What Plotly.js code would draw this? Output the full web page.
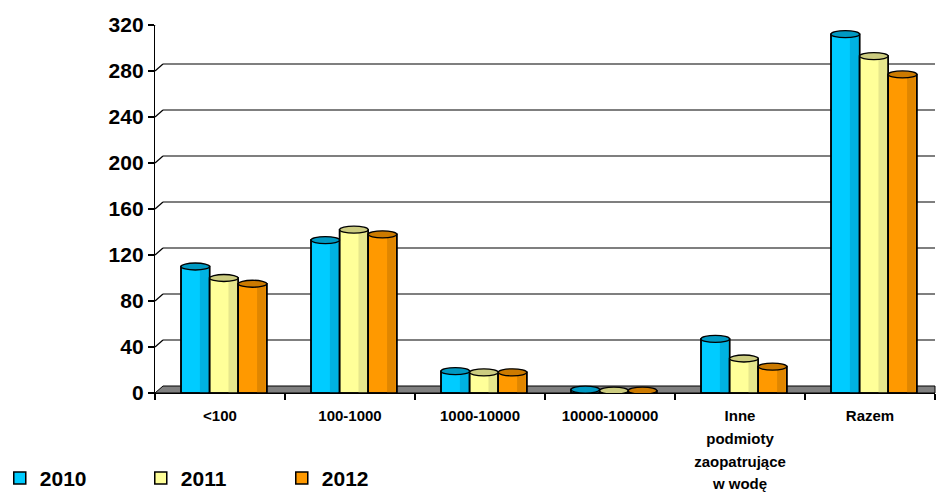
<!DOCTYPE html>
<html>
<head>
<meta charset="utf-8">
<script src="https://cdn.plot.ly/plotly-3.0.1.min.js"></script>
<style>
  html, body { margin: 0; padding: 0; background: #ffffff; }
  #chart { width: 937px; height: 493px; }
</style>
</head>
<body>
<div id="chart"></div>
<script>
// Categories (size classes of water suppliers) and yearly counts
const categories = ['<100', '100-1000', '1000-10000', '10000-100000', 'Inne podmioty zaopatrujące w wodę', 'Razem'];
const categoryLabels = ['<100', '100-1000', '1000-10000', '10000-100000', 'Inne<br>podmioty<br>zaopatrujące<br>w wodę', 'Razem'];
const years = ['2010', '2011', '2012'];
const values2010 = [110, 133, 19, 3, 47, 312];
const values2011 = [100, 142, 18, 2, 30, 293];
const values2012 = [95, 138, 18, 2, 23, 277];
const yTicks = [0, 40, 80, 120, 160, 200, 240, 280, 320];

const series = [values2010, values2011, values2012];
const mainColors = ['#00CCFF', '#FFFF99', '#FF9900'];
const shadeColors = ['#00B2E2', '#E6E68C', '#E08600'];
const capColors = ['#0099C2', '#CCCC80', '#CC7A00'];

const barWidth = 0.22;
const groupStart = -0.30;
const xIdx = categories.map((_, i) => i);

const traces = [];
const shapes = [];

// Depth of the back wall, in pixels
const depthX = 8, depthY = 7;
const plotW = 937 - 155 - 2;
const depthFrac = depthX / plotW;

// Floor of the 3D box
shapes.push({
  type: 'path', layer: 'below', xref: 'paper', yref: 'y',
  ysizemode: 'pixel', yanchor: 0,
  path: `M0,0 L${depthFrac},${depthY} L1,${depthY} L1,0 Z`,
  fillcolor: '#808080', line: { color: '#000000', width: 1 }
});

// Back-wall gridlines with the short diagonal from the axis
yTicks.forEach(v => {
  if (v === 0) return;
  shapes.push({
    type: 'line', layer: 'below', xref: 'paper', yref: 'y',
    ysizemode: 'pixel', yanchor: v,
    x0: 0, x1: depthFrac, y0: 0, y1: depthY,
    line: { color: '#000000', width: 1.2 }
  });
  shapes.push({
    type: 'line', layer: 'below', xref: 'paper', yref: 'y',
    ysizemode: 'pixel', yanchor: v,
    x0: depthFrac, x1: 1, y0: depthY, y1: depthY,
    line: { color: '#000000', width: 1.2 }
  });
});

series.forEach((vals, s) => {
  const off = groupStart + s * barWidth;
  // body of each cylinder
  traces.push({
    type: 'bar', name: years[s], x: xIdx, y: vals,
    offset: off, width: barWidth,
    marker: { color: mainColors[s], line: { color: '#000000', width: 1.5 } },
    hoverinfo: 'skip'
  });
  // darker right side for the rounded look
  traces.push({
    type: 'bar', name: years[s] + ' cień', showlegend: false, x: xIdx, y: vals,
    offset: off + barWidth * 0.66, width: barWidth * 0.30,
    marker: { color: shadeColors[s], line: { width: 0 } },
    hoverinfo: 'skip'
  });
  // outline on top again
  traces.push({
    type: 'bar', name: years[s] + ' kontur', showlegend: false, x: xIdx, y: vals,
    offset: off, width: barWidth,
    marker: { color: 'rgba(0,0,0,0)', line: { color: '#000000', width: 1.5 } },
    hoverinfo: 'skip'
  });
  // elliptical top caps
  vals.forEach((v, i) => {
    shapes.push({
      type: 'circle', layer: 'above', xref: 'x', yref: 'y',
      ysizemode: 'pixel', yanchor: v,
      x0: i + off, x1: i + off + barWidth, y0: -3.5, y1: 3.5,
      fillcolor: capColors[s], line: { color: '#000000', width: 1.3 }
    });
  });
});

const layout = {
  width: 937, height: 493,
  margin: { l: 155, r: 2, t: 25, b: 100, autoexpand: false },
  paper_bgcolor: '#ffffff', plot_bgcolor: 'rgba(0,0,0,0)',
  barmode: 'overlay',
  showlegend: true,
  font: { family: 'Liberation Sans, Arial, sans-serif', color: '#000000' },
  xaxis: {
    type: 'linear',
    range: [-0.5, 5.5],
    tickmode: 'array',
    tickvals: xIdx,
    ticktext: categoryLabels.map(t => `<span style="font-size:15px">${t}</span>`),
    tickfont: { size: 17.5, weight: 700 },
    ticklabelstandoff: 6,
    ticks: '', showgrid: false, zeroline: false,
    showline: true, linecolor: '#000000', linewidth: 1.2,
    minor: { tickmode: 'array', tickvals: [-0.5, 0.5, 1.5, 2.5, 3.5, 4.5, 5.5], ticks: 'outside', ticklen: 6, tickcolor: '#000000', tickwidth: 1.2, showgrid: false },
    fixedrange: true
  },
  yaxis: {
    range: [0, 320],
    tickmode: 'array', tickvals: yTicks,
    tickfont: { size: 21, weight: 700 },
    ticks: 'outside', ticklen: 6, tickcolor: '#000000', tickwidth: 1.2,
    showgrid: false, zeroline: false,
    showline: true, linecolor: '#000000', linewidth: 1.2,
    fixedrange: true
  },
  legend: {
    orientation: 'h', x: -0.199, xanchor: 'left', y: -0.232, yanchor: 'middle',
    font: { size: 21, weight: 700 },
    entrywidth: 96, entrywidthmode: 'pixels',
    itemwidth: 30, bgcolor: 'rgba(0,0,0,0)'
  },
  shapes: shapes
};

Plotly.newPlot('chart', traces, layout, { displayModeBar: false, staticPlot: true });
</script>
</body>
</html>
